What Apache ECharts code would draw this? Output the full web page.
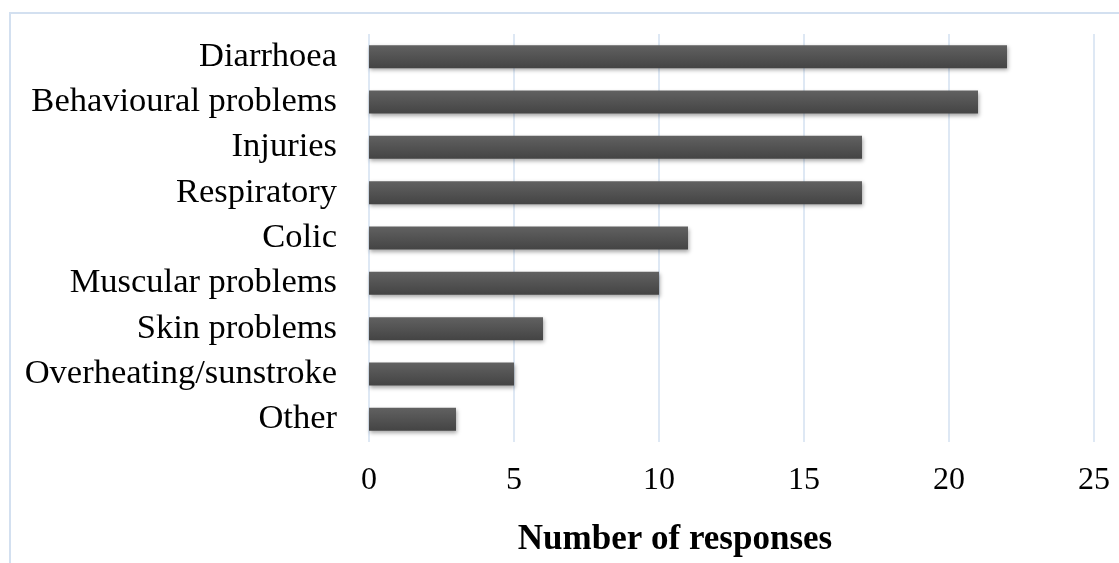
<!DOCTYPE html>
<html>
<head>
<meta charset="utf-8">
<style>
  html, body { margin: 0; padding: 0; background: #fff; }
  #chart { width: 1119px; height: 563px; }
</style>
<script src="https://cdn.jsdelivr.net/npm/echarts@6/dist/echarts.min.js"></script>
</head>
<body>
<div id="chart"></div>
<script>
// Reported health problems, ordered top to bottom
const categories = [
  'Diarrhoea',
  'Behavioural problems',
  'Injuries',
  'Respiratory',
  'Colic',
  'Muscular problems',
  'Skin problems',
  'Overheating/sunstroke',
  'Other'
];
const responses = [22, 21, 17, 17, 11, 10, 6, 5, 3];
const xTicks = [0, 5, 10, 15, 20, 25];
const axisTitle = 'Number of responses';

const serif = '"Liberation Serif", "Times New Roman", serif';
const gridBlue = '#d3e0f0';

const chart = echarts.init(document.getElementById('chart'), null, { renderer: 'canvas' });

chart.setOption({
  backgroundColor: '#ffffff',
  animation: false,
  graphic: [{
    // frame around the chart area
    type: 'rect',
    shape: { x: 10, y: 13, width: 1300, height: 700 },
    style: { fill: 'none', stroke: gridBlue, lineWidth: 2 },
    silent: true,
    z: -1
  }, {
    // value axis title
    type: 'text',
    x: 675,
    y: 540,
    style: {
      text: axisTitle,
      fontFamily: serif,
      fontSize: 35,
      fontWeight: 'bold',
      fill: '#000',
      align: 'center',
      verticalAlign: 'middle'
    },
    silent: true
  }],
  grid: { left: 369, right: 25, top: 34, bottom: 121, containLabel: false },
  xAxis: {
    type: 'value',
    min: xTicks[0],
    max: xTicks[xTicks.length - 1],
    interval: xTicks[1] - xTicks[0],
    axisLine: { show: false },
    axisTick: { show: false },
    splitLine: { show: true, lineStyle: { color: gridBlue, width: 1.5 } },
    axisLabel: { fontFamily: serif, fontSize: 32, color: '#000', margin: 23 }
  },
  yAxis: {
    type: 'category',
    data: categories,
    inverse: true,
    axisLine: { show: false },
    axisTick: { show: false },
    splitLine: { show: false },
    axisLabel: {
      interval: 0,
      hideOverlap: false,
      fontFamily: serif,
      fontSize: 34.5,
      color: '#000',
      margin: 32
    }
  },
  series: [{
    type: 'bar',
    data: responses,
    barWidth: 23,
    itemStyle: {
      color: new echarts.graphic.LinearGradient(0, 0, 0, 1, [
        { offset: 0, color: '#616161' },
        { offset: 1, color: '#444444' }
      ]),
      shadowColor: 'rgba(0,0,0,0.35)',
      shadowBlur: 4,
      shadowOffsetX: 1,
      shadowOffsetY: 2
    }
  }]
});
</script>
</body>
</html>
